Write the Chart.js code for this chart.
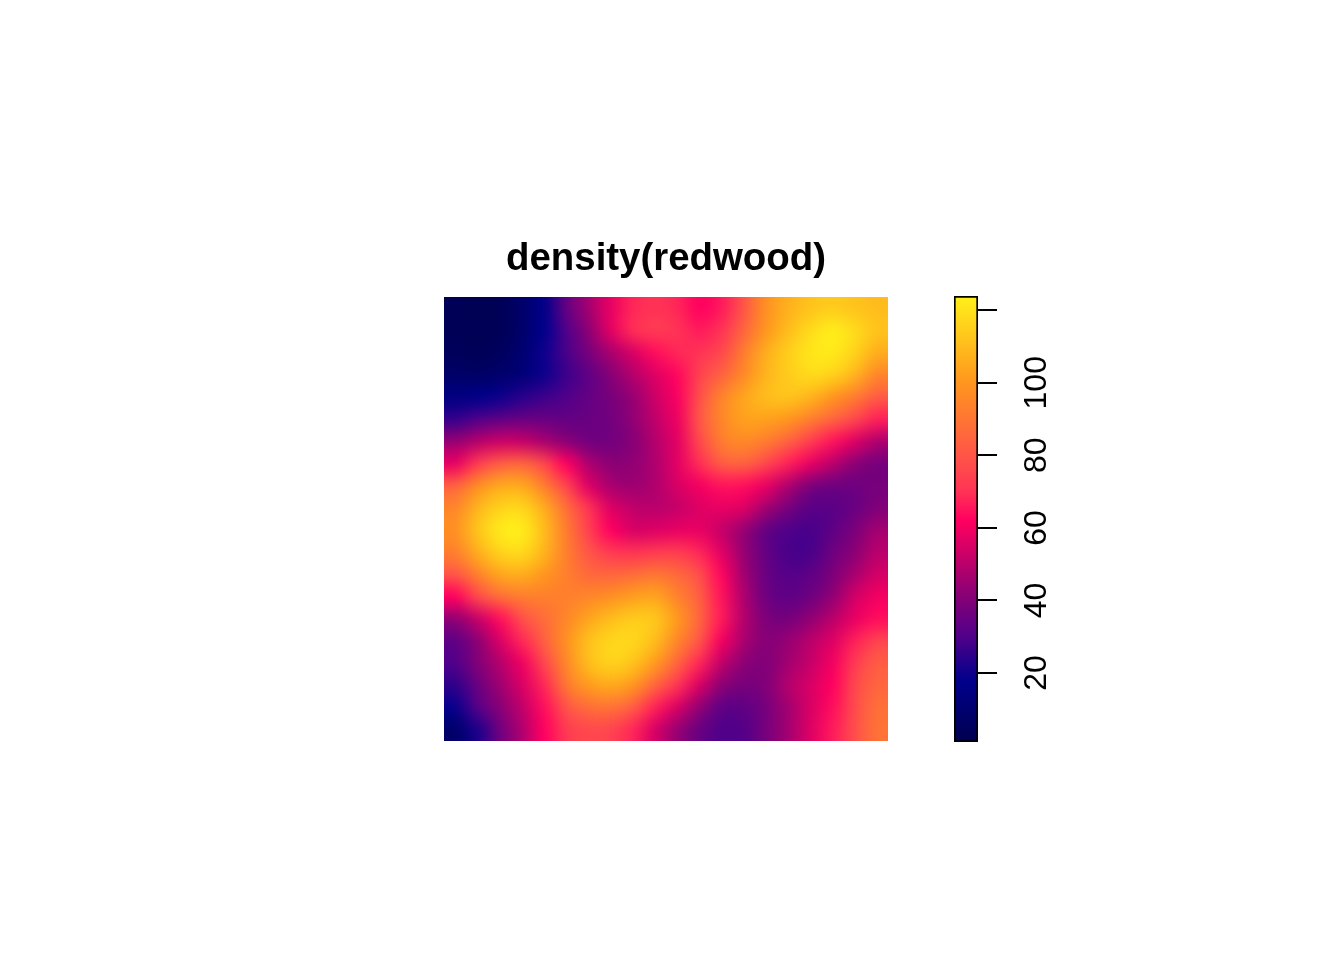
<!DOCTYPE html>
<html>
<head>
<meta charset="utf-8">
<title>density(redwood)</title>
<script src="https://cdn.jsdelivr.net/npm/chart.js@4"></script>
<style>
  html, body { margin: 0; padding: 0; background: #fff; }
  #wrap { position: relative; width: 1344px; height: 960px; }
  canvas { position: absolute; left: 0; top: 0; }
</style>
</head>
<body>
<div id="wrap">
  <canvas id="density-chart" width="1344" height="960"></canvas>
  <canvas id="ribbon-chart" width="1344" height="960"></canvas>
</div>
<script>
const chartTitle = 'density(redwood)';

// cell centres, 20 x 20, rows go top to bottom
const cellColumns = [0.5, 1.5, 2.5, 3.5, 4.5, 5.5, 6.5, 7.5, 8.5, 9.5, 10.5, 11.5, 12.5, 13.5, 14.5, 15.5, 16.5, 17.5, 18.5, 19.5];
const cellRows = [0.5, 1.5, 2.5, 3.5, 4.5, 5.5, 6.5, 7.5, 8.5, 9.5, 10.5, 11.5, 12.5, 13.5, 14.5, 15.5, 16.5, 17.5, 18.5, 19.5];

const row01 = [3, 2, 3, 8, 17, 34, 46, 58, 68, 70, 68, 62, 66, 80, 98, 107, 112, 114, 112, 110];
const row02 = [3, 2, 3, 8, 18, 30, 42, 57, 69, 72, 70, 66, 70, 85, 100, 110, 118, 123, 118, 112];
const row03 = [4, 3, 5, 10, 20, 29, 38, 47, 55, 64, 68, 70, 76, 92, 106, 115, 121, 122, 116, 106];
const row04 = [8, 7, 9, 12, 20, 27, 33, 41, 49, 56, 63, 74, 84, 96, 108, 114, 118, 116, 108, 95];
const row05 = [15, 17, 20, 24, 27, 30, 34, 38, 44, 53, 61, 78, 94, 104, 110, 112, 108, 100, 92, 82];
const row06 = [26, 30, 33, 35, 35, 34, 35, 37, 43, 51, 59, 80, 95, 103, 103, 100, 93, 85, 76, 67];
const row07 = [44, 49, 53, 52, 47, 42, 37, 37, 41, 49, 57, 76, 92, 96, 92, 84, 73, 65, 56, 48];
const row08 = [58, 72, 82, 85, 76, 62, 48, 42, 43, 48, 57, 69, 82, 84, 76, 67, 58, 50, 42, 38];
const row09 = [84, 97, 105, 105, 93, 75, 56, 47, 45, 48, 55, 60, 65, 64, 58, 48, 39, 36, 36, 38];
const row10 = [95, 108, 116, 117, 106, 88, 70, 56, 51, 50, 52, 56, 58, 56, 46, 38, 32, 32, 35, 40];
const row11 = [98, 112, 122, 123, 110, 92, 74, 62, 55, 56, 58, 58, 52, 44, 34, 30, 29, 33, 39, 46];
const row12 = [93, 106, 116, 118, 108, 93, 80, 72, 70, 72, 73, 68, 57, 44, 34, 29, 29, 36, 42, 50];
const row13 = [80, 93, 104, 106, 100, 93, 86, 85, 87, 90, 86, 78, 63, 46, 35, 31, 33, 39, 47, 54];
const row14 = [62, 76, 87, 92, 93, 93, 95, 98, 102, 104, 94, 83, 65, 48, 36, 33, 36, 43, 54, 60];
const row15 = [43, 52, 64, 78, 87, 95, 104, 110, 114, 113, 101, 85, 66, 49, 39, 38, 43, 50, 58, 64];
const row16 = [33, 42, 55, 68, 83, 98, 111, 117, 117, 110, 95, 80, 60, 47, 41, 44, 50, 56, 67, 75];
const row17 = [30, 40, 49, 59, 75, 95, 110, 116, 112, 101, 85, 68, 51, 42, 40, 46, 52, 60, 72, 82];
const row18 = [25, 35, 45, 55, 68, 90, 101, 105, 100, 85, 70, 55, 42, 38, 40, 49, 55, 62, 76, 85];
const row19 = [19, 31, 41, 51, 64, 79, 87, 89, 82, 67, 55, 43, 33, 33, 38, 46, 55, 64, 77, 88];
const row20 = [8, 22, 36, 48, 62, 72, 76, 75, 68, 55, 44, 35, 30, 31, 38, 46, 56, 66, 78, 89];
const densityRows = [row01, row02, row03, row04, row05, row06, row07, row08, row09, row10,
  row11, row12, row13, row14, row15, row16, row17, row18, row19, row20];

// colour ramp
const rampValues = [1, 18, 30, 42, 55, 62, 70, 80, 100, 123.9];
const rampColours = ['#000050', '#00008C', '#50008A', '#8B0075', '#D80065', '#FF0060', '#FF3355', '#FF5548', '#FF961E', '#FFF01A'];

const ribbonRange = [1, 123.9];
const ribbonTicks = [20, 40, 60, 80, 100, 120];
// the 120 tick has no label in the picture
const ribbonLabels = ['20', '40', '60', '80', '100', ''];

function hexToRgb(hex) {
  return [1, 3, 5].map((i) => parseInt(hex.substr(i, 2), 16));
}

function colourFor(value) {
  let i = 0;
  while (i < rampValues.length - 2 && value > rampValues[i + 1]) i++;
  const t = Math.min(1, Math.max(0, (value - rampValues[i]) / (rampValues[i + 1] - rampValues[i])));
  const a = hexToRgb(rampColours[i]);
  const b = hexToRgb(rampColours[i + 1]);
  const mix = a.map((c, k) => Math.round(c + (b[k] - c) * t));
  return `rgb(${mix[0]}, ${mix[1]}, ${mix[2]})`;
}

const cells = [];
cellRows.forEach((y, r) => {
  cellColumns.forEach((x, c) => {
    cells.push({ x: x, y: y, v: densityRows[r][c] });
  });
});

// cells are drawn by the scatter dataset, this only softens the block edges
const smoothCells = {
  id: 'smoothCells',
  afterDatasetsDraw(chart) {
    const area = chart.chartArea;
    const w = Math.round(area.width);
    const h = Math.round(area.height);
    const small = document.createElement('canvas');
    small.width = cellColumns.length;
    small.height = cellRows.length;
    const sctx = small.getContext('2d');
    sctx.imageSmoothingEnabled = false;
    sctx.drawImage(chart.canvas, area.left, area.top, w, h, 0, 0, small.width, small.height);
    const ctx = chart.ctx;
    ctx.save();
    ctx.imageSmoothingEnabled = true;
    ctx.imageSmoothingQuality = 'high';
    ctx.drawImage(small, area.left, area.top, w, h);
    ctx.restore();
  },
};

new Chart(document.getElementById('density-chart').getContext('2d'), {
  type: 'scatter',
  data: {
    datasets: [{
      label: chartTitle,
      data: cells,
      pointStyle: 'rect',
      pointBorderWidth: 0,
      pointRadius: (ctx) => {
        const area = ctx.chart.chartArea;
        return area ? (area.width / cellColumns.length / 2) / Math.SQRT1_2 + 1 : 16;
      },
      pointBackgroundColor: (ctx) => (ctx.raw ? colourFor(ctx.raw.v) : '#000'),
    }],
  },
  options: {
    responsive: false,
    animation: false,
    events: [],
    layout: { padding: { left: 444, right: 456, top: 236, bottom: 219 } },
    scales: {
      x: { type: 'linear', display: false, min: 0, max: cellColumns.length },
      y: { type: 'linear', display: false, min: 0, max: cellRows.length, reverse: true },
    },
    plugins: {
      legend: { display: false },
      tooltip: { enabled: false },
      title: {
        display: true,
        text: chartTitle,
        fullSize: false,
        color: '#000',
        font: { family: '"Liberation Sans", Arial, sans-serif', size: 38.4, weight: 'bold' },
        padding: { top: 0, bottom: 15 },
      },
    },
  },
  plugins: [smoothCells],
});

new Chart(document.getElementById('ribbon-chart').getContext('2d'), {
  type: 'bar',
  data: {
    labels: [''],
    datasets: [{
      data: [ribbonRange],
      barPercentage: 1,
      categoryPercentage: 1,
      borderColor: '#000',
      borderWidth: 2,
      borderSkipped: false,
      backgroundColor: (ctx) => {
        const chart = ctx.chart;
        if (!chart.chartArea) return '#000';
        const y = chart.scales.y;
        const grad = chart.ctx.createLinearGradient(0, y.getPixelForValue(ribbonRange[0]), 0, y.getPixelForValue(ribbonRange[1]));
        rampValues.forEach((v, i) => {
          grad.addColorStop((v - ribbonRange[0]) / (ribbonRange[1] - ribbonRange[0]), rampColours[i]);
        });
        return grad;
      },
    }],
  },
  options: {
    responsive: false,
    animation: false,
    events: [],
    layout: { padding: { left: 954, right: 286, top: 296, bottom: 218 } },
    scales: {
      x: { display: false },
      y: {
        position: 'right',
        min: ribbonRange[0],
        max: ribbonRange[1],
        afterBuildTicks: (scale) => { scale.ticks = ribbonTicks.map((v) => ({ value: v })); },
        afterFit: (scale) => { scale.width = 80; },
        border: { display: false },
        grid: { drawOnChartArea: false, color: '#000', lineWidth: 2, tickLength: 19, tickColor: '#000', tickWidth: 2 },
        ticks: {
          color: '#000',
          font: { family: '"Liberation Sans", Arial, sans-serif', size: 32 },
          padding: 13,
          minRotation: 90,
          maxRotation: 90,
          crossAlign: 'center',
          autoSkip: false,
          callback: (v) => ribbonLabels[ribbonTicks.indexOf(v)],
        },
      },
    },
    plugins: { legend: { display: false }, tooltip: { enabled: false } },
  },
});
</script>
</body>
</html>
